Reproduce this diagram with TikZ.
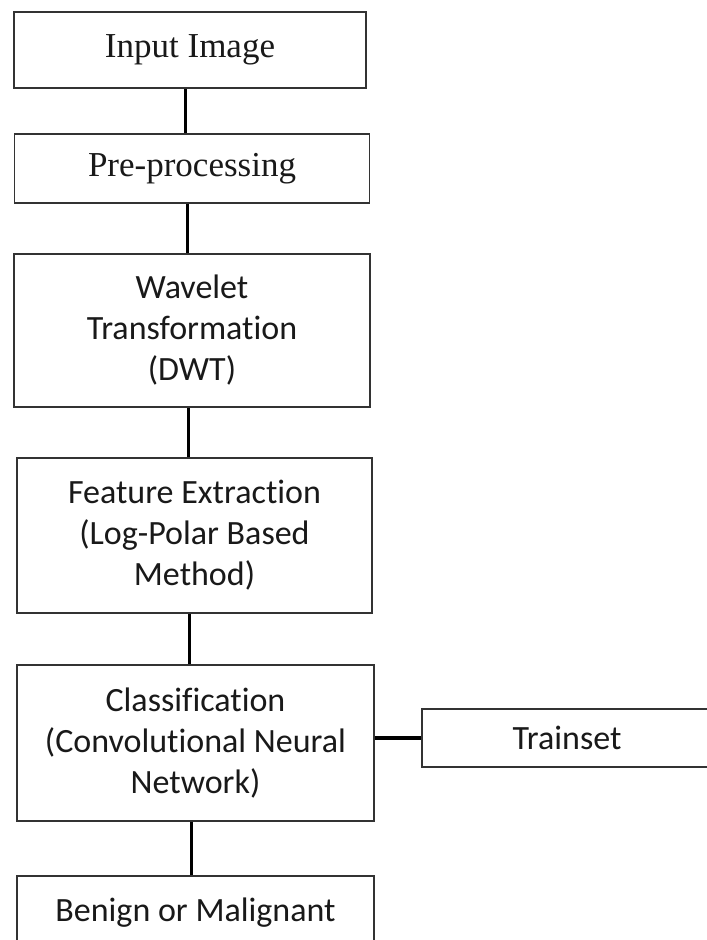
\documentclass[tikz,border=0pt]{standalone}
\usepackage{fontspec}
\setmainfont{Carlito}[Ligatures=NoCommon]
\newfontfamily\serifA{Liberation Serif}
\begin{document}
\begin{tikzpicture}[x=1pt,y=-1pt,
  box/.style={draw=black!80, line width=1.7pt, align=center, inner sep=0pt,
    text=black!90, font=\fontsize{34}{41}\selectfont},
  sbox/.style={box, font=\serifA\fontsize{35}{42}\selectfont},
  link/.style={draw=black, line width=3pt}]
\clip (0,0) rectangle (707,940);
\fill[white] (0,0) rectangle (707,940);
\node[sbox, minimum width=352pt, minimum height=76pt] (in) at (190,50) {Input Image};
\node[sbox, minimum width=355pt, minimum height=69pt] (pre) at (192,168.5) {Pre-processing};
\node[box, minimum width=356pt, minimum height=153pt] (wav) at (192,330.5) {Wavelet\\Transformation\\(DWT)};
\node[box, minimum width=355pt, minimum height=155pt] (fe) at (194.5,535.5) {Feature Extraction\\(Log-Polar Based\\Method)};
\node[box, minimum width=357pt, minimum height=156pt] (cls) at (195.5,743) {Classification\\(Convolutional Neural\\Network)};
\node[box, minimum width=290pt, minimum height=58pt] (tr) at (567,738) {Trainset};
\node[box, minimum width=357pt, minimum height=74pt] (bm) at (195.5,913) {Benign or Malignant};
\draw[link] (in.south -| 185,0) -- (pre.north -| 185,0);
\draw[link] (pre.south -| 187,0) -- (wav.north -| 187,0);
\draw[link] (wav.south -| 188,0) -- (fe.north -| 188,0);
\draw[link] (fe.south -| 189,0) -- (cls.north -| 189,0);
\draw[link] (cls.south -| 191,0) -- (bm.north -| 191,0);
\draw[link, line width=3.5pt] (cls.east |- 0,738) -- (tr.west |- 0,738);
\end{tikzpicture}
\end{document}
